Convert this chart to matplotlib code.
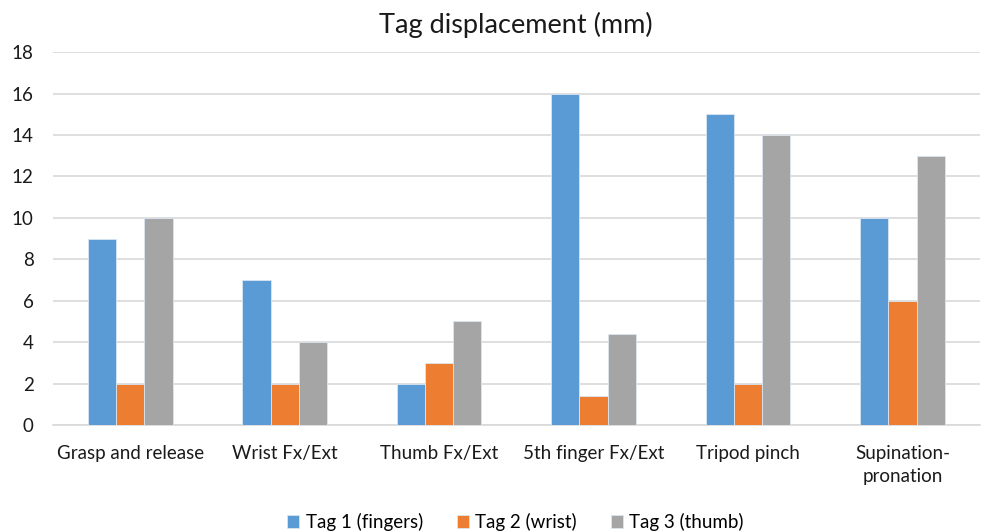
import matplotlib
matplotlib.use("Agg")
from matplotlib import pyplot as plt
import numpy as np

categories = ["Grasp and release", "Wrist Fx/Ext", "Thumb Fx/Ext",
              "5th finger Fx/Ext", "Tripod pinch", "Supination-\npronation"]
tag1 = [9, 7, 2, 16, 15, 10]
tag2 = [2, 2, 3, 1.4, 2, 6]
tag3 = [10, 4, 5, 4.4, 14, 13]
series_names = ["Tag 1 (fingers)", "Tag 2 (wrist)", "Tag 3 (thumb)"]
colors = ["#5b9bd5", "#ed7d31", "#a5a5a5"]

plt.rcParams['font.family'] = ['Lato', 'DejaVu Sans']

fig = plt.figure(figsize=(9.91, 5.32), dpi=100)
ax = fig.add_axes([0.0535, 0.201, 0.935, 0.701])

x = np.arange(len(categories))
w = 0.183
for i, (vals, name, c) in enumerate(zip([tag1, tag2, tag3], series_names, colors)):
    ax.bar(x + (i - 1) * w, vals, width=w, color=c, label=name,
           edgecolor='#d9e6f2', linewidth=0.6, zorder=3)

ax.set_xlim(-0.5, len(categories) - 0.5)
ax.set_ylim(0, 18)
ax.set_yticks(range(0, 19, 2))
ax.yaxis.grid(True, color='#d9d9d9', linewidth=1.2, zorder=0)
ax.set_xticks(x)
ax.set_xticklabels(categories, fontsize=13.5, color='#1a1a1a', va='top',
                   linespacing=1.45)
ax.tick_params(axis='y', labelsize=13.5, labelcolor='#1a1a1a', length=0, pad=14)
ax.tick_params(axis='x', length=0, pad=14)
for s in ['top', 'right', 'left']:
    ax.spines[s].set_visible(False)
ax.spines['bottom'].set_color('#d9d9d9')
ax.spines['bottom'].set_linewidth(1.2)

ax.set_title("Tag displacement (mm)", fontsize=19.5, color='#1a1a1a', pad=14)

fig.legend(loc='lower center', bbox_to_anchor=(0.52, -0.03), ncol=3, frameon=False,
           fontsize=13.5, handlelength=0.65, handleheight=0.65, handletextpad=0.35,
           columnspacing=1.8)

plt.savefig("out.png", dpi=100)
